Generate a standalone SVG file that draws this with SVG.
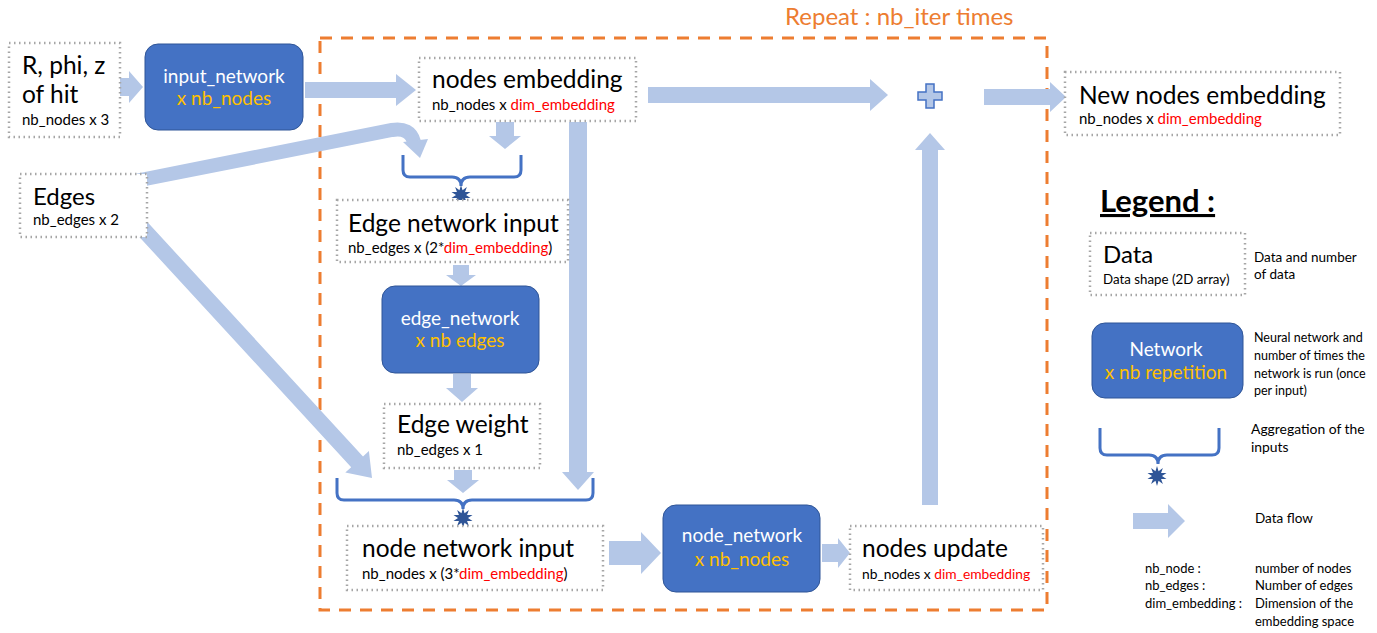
<svg xmlns="http://www.w3.org/2000/svg" width="1377" height="633" viewBox="0 0 1377 633">
<style>
text{font-family:Lato,"Open Sans","Liberation Sans",sans-serif;fill:#000}
.data{fill:#fff;stroke:#A6A6A6;stroke-width:2.5;stroke-dasharray:1.5 3.5}
.net{fill:#4472C4;stroke:#2F5597;stroke-width:1}
.big{font-size:24.5px}
.sub{font-size:15px}
.nt{font-size:19px;fill:#fff;text-anchor:middle}
.ng{font-size:19px;fill:#FFC000;text-anchor:middle}
.red{fill:#FF0000}
.flow{fill:#B4C7E7}
.brace{fill:none;stroke:#4472C4;stroke-width:3}
.star{fill:#2F5597}
.leg{font-size:13px}
</style>
<defs>
<polygon id="star" points="0,-10 1.55,-4.76 5.88,-8.09 4.05,-2.94 9.51,-3.09 5,0 9.51,3.09 4.05,2.94 5.88,8.09 1.55,4.76 0,10 -1.55,4.76 -5.88,8.09 -4.05,2.94 -9.51,3.09 -5,0 -9.51,-3.09 -4.05,-2.94 -5.88,-8.09 -1.55,-4.76"/>
</defs>
<rect width="1377" height="633" fill="#fff"/>

<g id="repeat-frame">
<rect x="320" y="38" width="727" height="572" fill="none" stroke="#ED7D31" stroke-width="3" stroke-dasharray="12 9"/>
<text x="785" y="25" font-size="24" style="fill:#ED7D31">Repeat : nb_iter times</text>
</g>

<g id="connectors">
<polygon class="flow" points="117,78 129,78 129,71 143,87 129,103 129,96 117,96"/>
<polygon class="flow" points="305,82 396,82 396,74 416,90 396,106 396,98 305,98"/>
<polygon class="flow" points="648,87 870,87 870,79 888,95 870,111 870,103 648,103"/>
<polygon class="flow" points="984,89 1050,89 1050,82 1066,97 1050,112 1050,105 984,105"/>
<polygon class="flow" points="609,541 641,541 641,532 661,553 641,574 641,565 609,565"/>
<polygon class="flow" points="822,544 838,544 838,538 850,553 838,568 838,562 822,562"/>
<polygon class="flow" points="496,122 514,122 514,136 521,136 505,149 489,136 496,136"/>
<polygon class="flow" points="569,122 587,122 587,472 594,472 578,490 562,472 569,472"/>
<polygon class="flow" points="453,265 469,265 469,275 476,275 461,286 446,275 453,275"/>
<polygon class="flow" points="453,374 471,374 471,388 478,388 462,402 446,388 453,388"/>
<polygon class="flow" points="454,470 472,470 472,480 479,480 463,493 447,480 454,480"/>
<polygon class="flow" points="922,505 938,505 938,150 945,150 930,133 915,150 922,150"/>
<polygon class="flow" points="135.9,209.6 363,456.4 368.9,451 372,478 345.3,472.6 351.2,467.2 124.1,220.4"/>
<path d="M120 184 L392 130 Q410 127 414 142" fill="none" stroke="#B4C7E7" stroke-width="14"/>
<polygon class="flow" points="403,142 428,139 420,158"/>
<path class="brace" d="M403 155 V170 Q403 177 410 177 H452 Q461 177 461 186 Q461 177 470 177 H514 Q521 177 521 170 V155"/>
<use href="#star" class="star" x="461" y="195"/>
<path class="brace" d="M337 478 V493 Q337 500 344 500 H454 Q463 500 463 509 Q463 500 472 500 H586 Q593 500 593 493 V478"/>
<use href="#star" class="star" x="463" y="518"/>
</g>

<g id="plus">
<path d="M926 84 H934 V92 H942 V100 H934 V108 H926 V100 H918 V92 H926 Z" fill="#B4C7E7" stroke="#4472C4" stroke-width="1.5"/>
</g>

<g id="hit">
<rect class="data" x="9" y="43" width="111" height="94"/>
<text x="22" y="74" font-size="24.5">R, phi, z</text>
<text x="22" y="103" font-size="24.5">of hit</text>
<text class="sub" x="22" y="125">nb_nodes x 3</text>
</g>

<g id="input_network">
<rect class="net" x="145" y="44" width="158" height="86" rx="13"/>
<text class="nt" x="224" y="83">input_network</text>
<text class="ng" x="224" y="105">x nb_nodes</text>
</g>

<g id="edges">
<rect class="data" x="20" y="174" width="127" height="63"/>
<text x="33" y="205" font-size="24">Edges</text>
<text class="sub" x="33" y="225">nb_edges x 2</text>
</g>

<g id="nodes_embedding">
<rect class="data" x="419" y="58" width="217" height="63"/>
<text class="big" x="432" y="88">nodes embedding</text>
<text class="sub" x="432" y="110">nb_nodes x <tspan class="red">dim_embedding</tspan></text>
</g>

<g id="edge_network_input">
<rect class="data" x="337" y="200" width="231" height="62"/>
<text class="big" x="348" y="232">Edge network input</text>
<text class="sub" x="348" y="253">nb_edges x (2*<tspan class="red">dim_embedding</tspan>)</text>
</g>

<g id="edge_network">
<rect class="net" x="382" y="286" width="157" height="87" rx="13"/>
<text class="nt" x="460" y="325">edge_network</text>
<text class="ng" x="460" y="347">x nb edges</text>
</g>

<g id="edge_weight">
<rect class="data" x="384" y="404" width="156" height="64"/>
<text class="big" x="397" y="433">Edge weight</text>
<text class="sub" x="397" y="455">nb_edges x 1</text>
</g>

<g id="node_network_input">
<rect class="data" x="347" y="526" width="256" height="64"/>
<text class="big" x="362" y="557">node network input</text>
<text class="sub" x="362" y="579">nb_nodes x (3*<tspan class="red">dim_embedding</tspan>)</text>
</g>

<g id="node_network">
<rect class="net" x="663" y="505" width="157" height="87" rx="13"/>
<text class="nt" x="742" y="542">node_network</text>
<text class="ng" x="742" y="566">x nb_nodes</text>
</g>

<g id="nodes_update">
<rect class="data" x="850" y="526" width="193" height="64"/>
<text class="big" x="862" y="557">nodes update</text>
<text x="862" y="579" font-size="13.8">nb_nodes x <tspan class="red">dim_embedding</tspan></text>
</g>

<g id="new_nodes_embedding">
<rect class="data" x="1065" y="72" width="275" height="63"/>
<text class="big" x="1079" y="104">New nodes embedding</text>
<text class="sub" x="1079" y="124">nb_nodes x <tspan class="red">dim_embedding</tspan></text>
</g>

<g id="legend">
<text x="1100" y="212" font-size="31" font-weight="bold" text-decoration="underline">Legend :</text>
<rect class="data" x="1090" y="233" width="155" height="62"/>
<text x="1103" y="263" font-size="24">Data</text>
<text x="1103" y="284" font-size="13.3">Data shape (2D array)</text>
<text x="1254" y="262" font-size="13.5">Data and number</text>
<text x="1254" y="279" font-size="13.5">of data</text>
<rect class="net" x="1092" y="323" width="151" height="75" rx="13"/>
<text class="nt" x="1166" y="356">Network</text>
<text class="ng" x="1166" y="379">x nb repetition</text>
<text x="1254" y="342" font-size="12.5">Neural network and</text>
<text x="1254" y="360" font-size="12.5">number of times the</text>
<text x="1254" y="378" font-size="12.5">network is run (once</text>
<text x="1254" y="395" font-size="12.5">per input)</text>
<path class="brace" d="M1100 428 V448 Q1100 455 1107 455 H1149 Q1158 455 1158 464 Q1158 455 1167 455 H1212 Q1219 455 1219 448 V428"/>
<use href="#star" class="star" x="1157" y="476"/>
<text x="1251" y="434" font-size="13.9">Aggregation of the</text>
<text x="1251" y="452" font-size="13.9">inputs</text>
<polygon class="flow" points="1133,513 1168,513 1168,504 1185,521 1168,538 1168,529 1133,529"/>
<text x="1255" y="523" font-size="13.5">Data flow</text>
<text class="leg" x="1145" y="573">nb_node :</text>
<text class="leg" x="1255" y="573">number of nodes</text>
<text class="leg" x="1145" y="590">nb_edges :</text>
<text class="leg" x="1255" y="590">Number of edges</text>
<text class="leg" x="1145" y="608">dim_embedding :</text>
<text class="leg" x="1255" y="608">Dimension of the</text>
<text class="leg" x="1255" y="626">embedding space</text>
</g>
</svg>
